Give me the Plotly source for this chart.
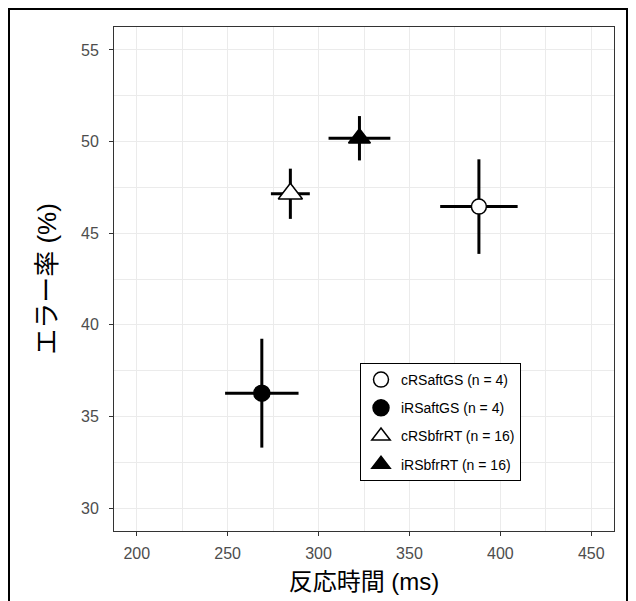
import plotly.graph_objects as go

# Data
groups = ["cRSaftGS (n = 4)", "iRSaftGS (n = 4)", "cRSbfrRT (n = 16)", "iRSbfrRT (n = 16)"]
rt_mean = [388.2, 268.8, 284.5, 322.5]
rt_err = [21.3, 20.2, 10.7, 17.0]
err_mean = [46.45, 36.27, 47.15, 50.18]
err_err = [2.58, 2.97, 1.37, 1.21]
x_ticks = [200, 250, 300, 350, 400, 450]
y_ticks = [30, 35, 40, 45, 50, 55]

symbols = ["circle", "circle", "triangle-up", "triangle-up"]
fills = ["white", "black", "white", "black"]
sizes = [15, 16, 21, 19]

FONT = "Liberation Sans, Arial, Noto Sans CJK JP, sans-serif"

fig = go.Figure()
for i, g in enumerate(groups):
    fig.add_trace(go.Scatter(
        x=[rt_mean[i]], y=[err_mean[i]], mode="markers", name=g,
        legendgroup=g,
        marker=dict(symbol=symbols[i], size=sizes[i], color=fills[i],
                    line=dict(color="black", width=1.5)),
        error_x=dict(type="data", array=[rt_err[i]], color="black", thickness=3, width=0),
        error_y=dict(type="data", array=[err_err[i]], color="black", thickness=3, width=0),
    ))

axis_common = dict(
    showline=True, mirror=True, linecolor="#333333", linewidth=1,
    ticks="outside", ticklen=4, tickcolor="#333333", tickwidth=1,
    gridcolor="#EBEBEB", gridwidth=1, zeroline=False,
    tickfont=dict(family=FONT, size=16, color="#4D4D4D"),
)

fig.update_layout(
    width=636, height=601,
    margin=dict(l=106, r=30, t=19, b=78),
    paper_bgcolor="white", plot_bgcolor="white",
    font=dict(family=FONT, color="black"),
    xaxis=dict(range=[187.5, 462.5], tickvals=x_ticks, ticklabelstandoff=4,
               minor=dict(dtick=25, tick0=0, showgrid=True, gridcolor="#EBEBEB", gridwidth=1, ticks=""),
               title=dict(text="反応時間 (ms)", font=dict(family=FONT, size=24, color="black"), standoff=11),
               **axis_common),
    yaxis=dict(range=[28.75, 56.25], tickvals=y_ticks, ticklabelstandoff=7,
               minor=dict(dtick=2.5, tick0=0, showgrid=True, gridcolor="#EBEBEB", gridwidth=1, ticks=""),
               title=dict(text="エラー率 (%)", font=dict(family=FONT, size=26, color="black"), standoff=16),
               **axis_common),
    legend=dict(x=0.492, y=0.3333, xanchor="left", yanchor="top",
                bgcolor="white", bordercolor="black", borderwidth=1,
                font=dict(family=FONT, size=14, color="black"),
                tracegroupgap=7, itemwidth=30),
    shapes=[dict(type="rect", xref="paper", yref="paper",
                 x0=-0.21, x1=1.026, y0=-0.2, y1=1.0357,
                 line=dict(color="black", width=2), fillcolor="rgba(0,0,0,0)", layer="above")],
)

fig.write_html("out.html")
